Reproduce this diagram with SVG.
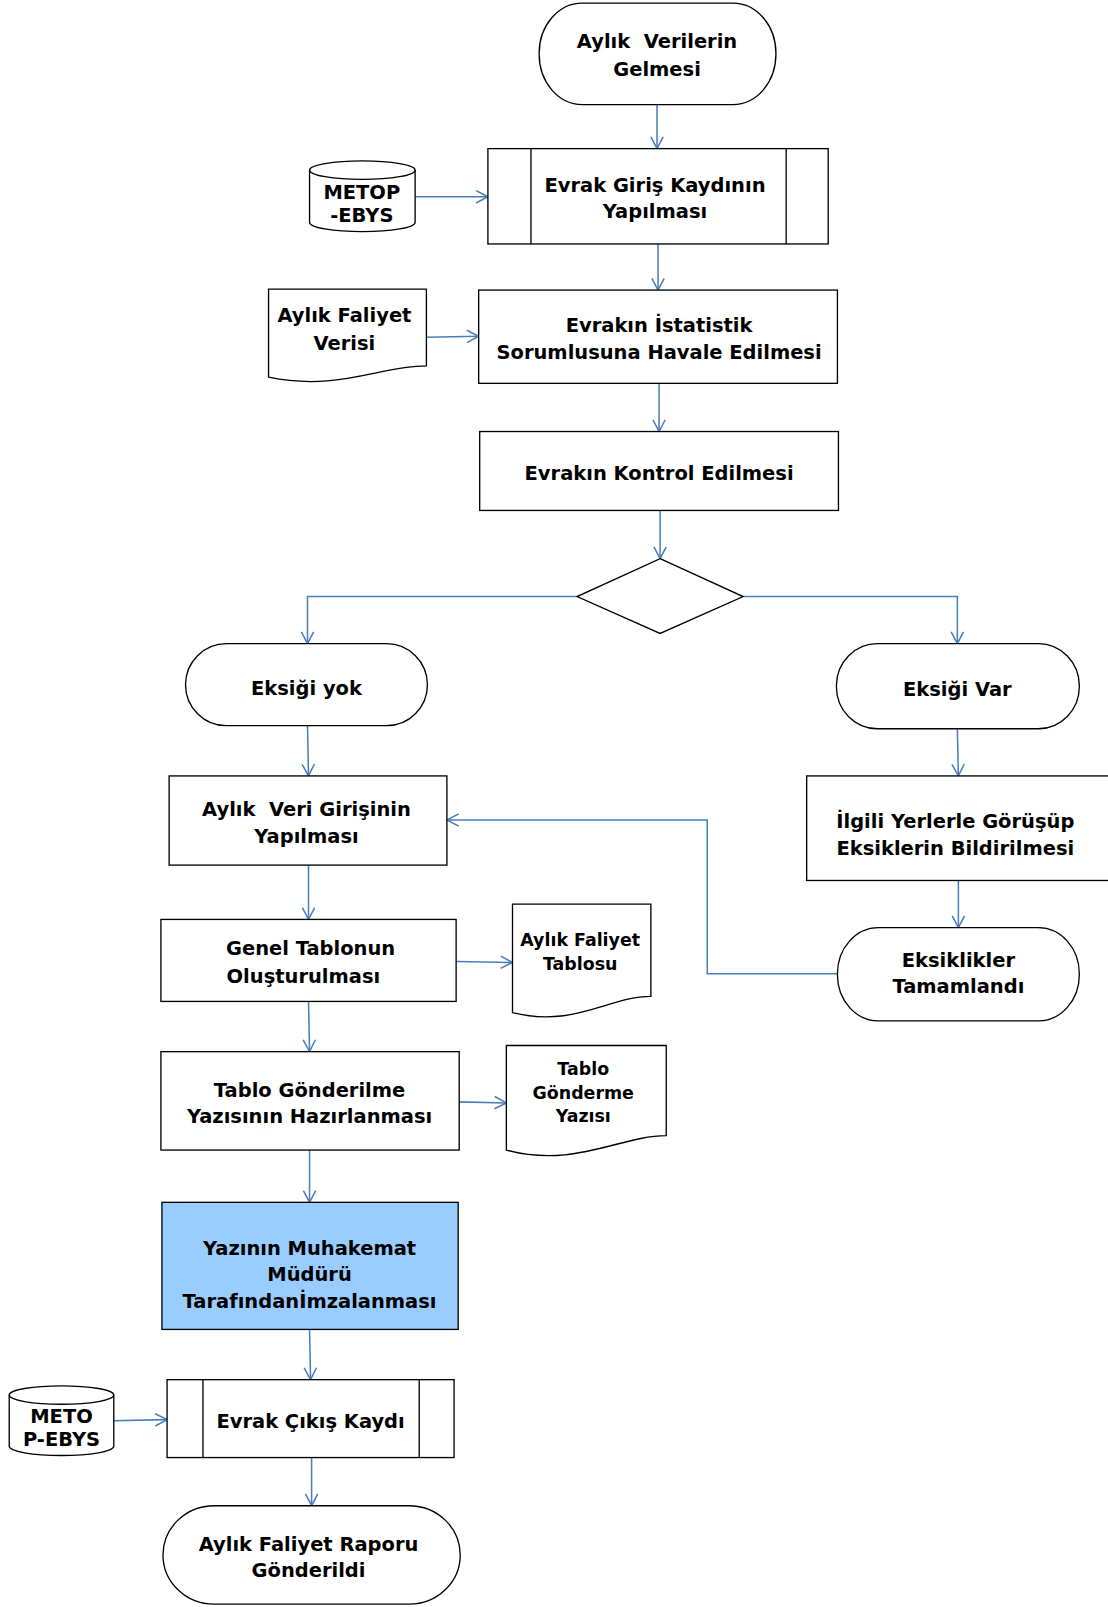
<svg xmlns="http://www.w3.org/2000/svg" width="1108" height="1607" viewBox="0 0 1108 1607">
<defs>
<style>
.s{fill:#fff;stroke:#000;stroke-width:1.3}
.b{fill:#99ccff;stroke:#000;stroke-width:1.3}
.l{fill:none;stroke:#000;stroke-width:1.3}
.t{font-family:"DejaVu Sans",Verdana,sans-serif;font-weight:bold;font-size:19px;text-anchor:middle;fill:#000}
.sm{font-size:17px}
.c{fill:none;stroke:#4a7ebb;stroke-width:1.5;marker-end:url(#a)}
</style>
<marker id="a" markerWidth="16" markerHeight="16" refX="12.5" refY="7" orient="auto" markerUnits="userSpaceOnUse">
<path d="M1,1 L12.5,7 L1,13" fill="none" stroke="#4a7ebb" stroke-width="1.5"/>
</marker>
</defs>
<rect width="1108" height="1607" fill="#fff"/>
<g transform="scale(1.0250)">
<g id="connectors">
<path class="c" d="M641,102 V145"/>
<path class="c" d="M405,192 H476"/>
<path class="c" d="M642,238 V283"/>
<path class="c" d="M416,329 L467,328"/>
<path class="c" d="M643,374 V421"/>
<path class="c" d="M644,498 V545"/>
<path class="c" d="M563,582 H300 V628"/>
<path class="c" d="M725,582 H934 V628"/>
<path class="c" d="M300,708 L301,757"/>
<path class="c" d="M934,711 L935,757"/>
<path class="c" d="M935,859 V905"/>
<path class="c" d="M817,950 H690 V800 H436"/>
<path class="c" d="M301,844 V897"/>
<path class="c" d="M445,938 L500,939"/>
<path class="c" d="M301,977 L302,1026"/>
<path class="c" d="M448,1075 L494,1076"/>
<path class="c" d="M302,1122 V1173"/>
<path class="c" d="M302,1297 L303,1346"/>
<path class="c" d="M111,1386 L163,1385"/>
<path class="c" d="M304,1422 V1469"/>
</g>
<g id="start">
<rect class="s" x="526" y="3" width="231" height="99" rx="42" ry="49"/>
<text class="t" x="641" y="47" xml:space="preserve">Aylık  Verilerin</text>
<text class="t" x="641" y="74">Gelmesi</text>
</g>
<g id="metop1">
<path class="s" d="M302,166 A51.5,9 0 0 1 405,166 V217 A51.5,9 0 0 1 302,217 Z"/>
<path class="l" d="M302,166 A51.5,9 0 0 0 405,166"/>
<text class="t" x="353" y="194">METOP</text>
<text class="t" x="353" y="217">-EBYS</text>
</g>
<g id="giris">
<rect class="s" x="476" y="145" width="332" height="93"/>
<path class="l" d="M518,145 V238 M767,145 V238"/>
<text class="t" x="639" y="187">Evrak Giriş Kaydının</text>
<text class="t" x="639" y="213">Yapılması</text>
</g>
<g id="verisi">
<path class="s" d="M262,282 H416 V357 C370,357 330,382 262,368 Z"/>
<text class="t" x="336" y="314">Aylık Faliyet</text>
<text class="t" x="336" y="341">Verisi</text>
</g>
<g id="havale">
<rect class="s" x="467" y="283" width="350" height="91"/>
<text class="t" x="643" y="324">Evrakın İstatistik</text>
<text class="t" x="643" y="350">Sorumlusuna Havale Edilmesi</text>
</g>
<g id="kontrol">
<rect class="s" x="468" y="421" width="350" height="77"/>
<text class="t" x="643" y="468">Evrakın Kontrol Edilmesi</text>
</g>
<g id="karar">
<path class="s" d="M644,545 L725,582 L644,618 L563,582 Z"/>
</g>
<g id="eksik-yok">
<rect class="s" x="181" y="628" width="236" height="80" rx="40" ry="40"/>
<text class="t" x="299" y="678">Eksiği yok</text>
</g>
<g id="eksik-var">
<rect class="s" x="816" y="628" width="237" height="83" rx="40" ry="41"/>
<text class="t" x="934" y="679">Eksiği Var</text>
</g>
<g id="veri-giris">
<rect class="s" x="165" y="757" width="271" height="87"/>
<text class="t" x="299" y="796" xml:space="preserve">Aylık  Veri Girişinin</text>
<text class="t" x="299" y="822">Yapılması</text>
</g>
<g id="ilgili">
<rect class="s" x="787" y="757" width="310" height="102"/>
<text class="t" x="932" y="808">İlgili Yerlerle Görüşüp</text>
<text class="t" x="932" y="834">Eksiklerin Bildirilmesi</text>
</g>
<g id="genel">
<rect class="s" x="157" y="897" width="288" height="80"/>
<text class="t" x="303" y="932">Genel Tablonun</text>
<text class="t" x="296" y="959">Oluşturulması</text>
</g>
<g id="tablosu">
<path class="s" d="M500,882 H635 V972 C595,972 560,1003 500,988 Z"/>
<text class="t sm" x="566" y="923">Aylık Faliyet</text>
<text class="t sm" x="566" y="946">Tablosu</text>
</g>
<g id="tamamlandi">
<rect class="s" x="817" y="905" width="236" height="91" rx="40" ry="45"/>
<text class="t" x="935" y="943">Eksiklikler</text>
<text class="t" x="935" y="969">Tamamlandı</text>
</g>
<g id="gonderilme">
<rect class="s" x="157" y="1026" width="291" height="96"/>
<text class="t" x="302" y="1070">Tablo Gönderilme</text>
<text class="t" x="302" y="1096">Yazısının Hazırlanması</text>
</g>
<g id="yazisi">
<path class="s" d="M494,1020 H650 V1108 C605,1108 560,1140 494,1122 Z"/>
<text class="t sm" x="569" y="1049">Tablo</text>
<text class="t sm" x="569" y="1072">Gönderme</text>
<text class="t sm" x="569" y="1095">Yazısı</text>
</g>
<g id="imza">
<rect class="b" x="158" y="1173" width="289" height="124"/>
<text class="t" x="302" y="1224">Yazının Muhakemat</text>
<text class="t" x="302" y="1250">Müdürü</text>
<text class="t" x="302" y="1276">Tarafındanİmzalanması</text>
</g>
<g id="metop2">
<path class="s" d="M9,1361 A51,9 0 0 1 111,1361 V1411 A51,9 0 0 1 9,1411 Z"/>
<path class="l" d="M9,1361 A51,9 0 0 0 111,1361"/>
<text class="t" x="60" y="1388">METO</text>
<text class="t" x="60" y="1411">P-EBYS</text>
</g>
<g id="cikis">
<rect class="s" x="163" y="1346" width="280" height="76"/>
<path class="l" d="M198,1346 V1422 M409,1346 V1422"/>
<text class="t" x="303" y="1393">Evrak Çıkış Kaydı</text>
</g>
<g id="son">
<rect class="s" x="159" y="1469" width="290" height="96" rx="50" ry="48"/>
<text class="t" x="301" y="1513">Aylık Faliyet Raporu</text>
<text class="t" x="301" y="1539">Gönderildi</text>
</g>
</g>
</svg>
